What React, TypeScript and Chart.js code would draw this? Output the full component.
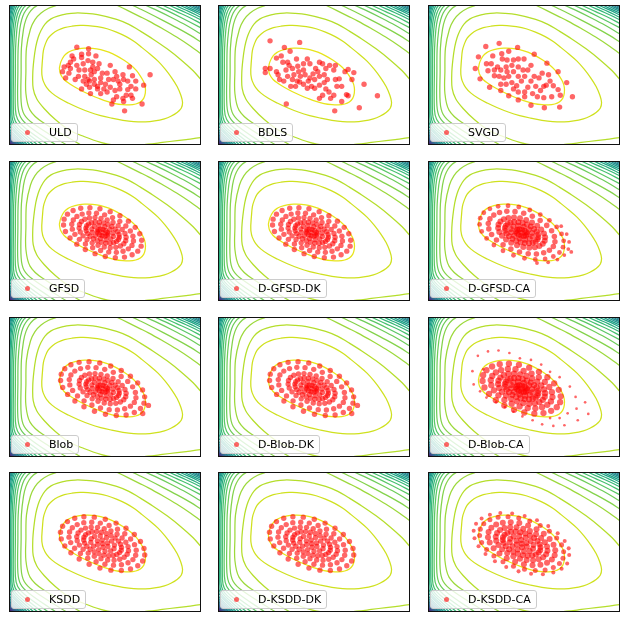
import React, { useEffect, useRef } from "react";
import { Chart, registerables } from "chart.js";

Chart.register(...registerables);

type Pt = [number, number];

// ---------------- panel labels ----------------
const panelNames = [
  "ULD", "BDLS", "SVGD",
  "GFSD", "D-GFSD-DK", "D-GFSD-CA",
  "Blob", "D-Blob-DK", "D-Blob-CA",
  "KSDD", "D-KSDD-DK", "D-KSDD-CA",
];

// ---------------- particles (x, y in axis units, y grows downward) ----------------
const uldPoints: Pt[] = [
  [70.5,44.2],[82.8,45.8],[82.8,51.2],[75.5,55.2],[67.2,56.8],[63.8,60.2],[61.5,63.5],[57.2,65.2],[55.5,70.2],[58.8,76.8],
  [63.8,66.8],[70.5,63.5],[77.2,61.8],[72.8,68.5],[78.8,68.5],[84.8,68.5],[88.8,70.2],[85.5,73.5],[82.2,78.5],[77.2,80.2],
  [75.5,88.5],[83.8,80.2],[88.8,83.5],[92.2,85.8],[95.5,81.8],[95.5,76.8],[97.2,71.8],[90.5,53.5],[93.8,61.8],[87.2,60.2],
  [82.2,58.5],[105.5,63.5],[110.5,70.2],[112.2,75.2],[102.2,71.8],[103.8,78.5],[100.5,83.5],[105.5,86.8],[102.2,91.8],[110.5,90.2],
  [115.5,88.5],[119.5,78.5],[118.8,73.5],[125.5,65.2],[128.8,74.5],[132.2,80.2],[127.2,85.8],[132.2,88.5],[123.8,89.2],[122.2,95.2],
  [127.2,95.2],[128.8,98.5],[118.8,98.5],[112.2,96.8],[108.8,100.2],[107.2,104.5],[119.5,101.8],[138.8,104.5],[120.5,111.8],[147.2,73.5],
  [140.5,84.5],[84.8,93.5],[92.2,88.5],[98.8,88.5],[95.5,93.5],[113.8,80.2],[123.8,80.2],[65.5,53.5],[72.2,75.2],[78.8,75.2],
  [68.8,78.5],[87.2,65.2],[92.2,66.8],[108.8,78.5],[115.5,83.5],[75.5,51.8],[80.5,83.5],[88.8,78.5],[83.8,86.8],[62.2,71.8],
];

const bdlsPoints: Pt[] = [
  [54,37.5],[85,39.2],[69,44.5],[75,48.5],[65.7,53.5],[60.7,55.8],[67.4,60.2],[72.4,60.2],[74,63.5],[70.7,68.5],
  [77.4,66.8],[81.7,56.8],[83,64.5],[89,61.8],[93,56.8],[95.7,61.8],[101.7,66.8],[105.7,60.2],[109,61.8],[104,70.2],
  [112.4,66.8],[116.4,63.5],[120.7,68.5],[122.4,63.5],[110.7,73.5],[105.7,75.2],[100.7,78.5],[95.7,76.8],[90.7,73.5],[85.7,75.2],
  [82.4,80.2],[77.4,78.5],[75.7,85.8],[80.7,85.8],[85,81.2],[89,83.5],[93,87.8],[97.4,85.8],[100.7,87.8],[105.7,84.5],
  [110.7,81.8],[112.4,88.5],[109,95.2],[115.7,91.8],[120.7,95.2],[122.4,78.5],[126.4,77.8],[129,85.8],[132.4,70.2],[135.7,67.8],
  [141.7,71.2],[139.7,78.5],[152.4,83.5],[134,94.5],[135.7,95.8],[129,101.8],[147.4,108.5],[121.7,111.8],[166.4,95.8],[71,104.5],
  [49,66.8],[54,66.8],[49,71.2],[60.7,70.2],[64,78.5],[68.4,80.2],[62.4,73.5],[72.4,75.2],[79,73.5],[84,70.2],
  [89,68.5],[94,80.2],[99,72.5],[114,78.5],[124,85.8],[117.4,98.5],[105.7,98.5],
];

const svgdPoints: Pt[] = [
  [60,43.5],[74,40.2],[93.3,44.5],[84,48.5],[67.3,53.5],[76.7,51.2],[52.3,54.5],[49,66.8],[54,77.8],[60.7,61.8],
  [65.7,61.8],[69,68.5],[72.3,65.2],[77.3,56.8],[82.3,57.8],[89,57.8],[94,56.8],[100,56.8],[110.7,51.8],[107.3,63.5],
  [104,68.5],[99,68.5],[94,65.2],[87.3,63.5],[81.3,65.2],[75.7,68.5],[74,75.2],[79,76.8],[84,75.2],[89,70.2],
  [94,75.2],[97.3,80.2],[92.3,85.2],[87.3,81.8],[81.3,83.5],[75.7,83.5],[64,86.8],[75.7,90.2],[84,95.8],[94,100.2],
  [107.3,105.8],[121.3,108.5],[137.3,107.8],[150.7,96.8],[144.7,81.8],[135.7,70.2],[124,61.2],[119,71.8],[125.7,73.5],[127.3,80.2],
  [123.3,84.5],[130.7,85.2],[135.7,89.2],[138,95.2],[129,96.8],[120.7,97.8],[117.3,90.2],[112.3,85.8],[107.3,80.2],[110.7,75.2],
  [115.7,76.8],[104,86.8],[100.7,91.8],[109,93.5],[94,91.8],[89,88.5],[114,96.8],[100.7,96.8],[69,74.5],[62.3,69.2],
  [82.3,70.2],[100.7,75.2],[120.7,85.8],
];

const gfsdRing1: Pt[] = [
  [137.8,89.8],[134.3,95.1],[128.4,99],[120.4,101.4],[110.8,102],[100.3,100.8],[89.6,97.8],[79.4,93.4],[70.5,87.7],[63.4,81.1],
  [58.6,74.3],[56.6,67.4],[57.2,61.2],[60.7,55.9],[66.6,52],[74.6,49.6],[84.2,49],[94.7,50.2],[105.4,53.2],[115.6,57.6],
  [124.5,63.3],[131.6,69.9],[136.4,76.7],[138.4,83.6],
];
const gfsdRing2: Pt[] = [
  [128.2,89],[124.4,92.7],[118.9,95.2],[111.9,96.4],[103.9,96.1],[95.4,94.4],[87.1,91.5],[79.5,87.5],[73.2,82.6],[68.5,77.3],
  [65.8,71.8],[65.2,66.6],[66.8,62],[70.6,58.3],[76.1,55.8],[83.1,54.6],[91.1,54.9],[99.6,56.6],[107.9,59.5],[115.5,63.5],
  [121.8,68.4],[126.5,73.7],[129.2,79.2],[129.8,84.4],
];
const coreRings: Pt[] = [
  [121.7,84.1],[119.7,87.3],[116.1,89.7],[111.3,91.1],[105.5,91.5],[99.2,90.7],[92.7,88.9],[86.6,86.3],[81.2,82.8],[77,78.9],
  [74.1,74.8],[72.9,70.7],[73.3,66.9],[75.3,63.7],[78.9,61.3],[83.7,59.9],[89.5,59.5],[95.8,60.3],[102.3,62.1],[108.4,64.7],
  [113.8,68.2],[118,72.1],[120.9,76.3],[122.1,80.4],
  [114.1,82.8],[112.1,84.8],[109.1,86.1],[105.3,86.8],[100.9,86.6],[96.4,85.7],[91.9,84.1],[87.8,82],[84.4,79.3],[81.8,76.5],
  [80.3,73.5],[80,70.7],[80.9,68.2],[82.9,66.2],[85.9,64.9],[89.7,64.2],[94.1,64.4],[98.6,65.3],[103.1,66.9],[107.2,69],
  [110.6,71.7],[113.2,74.5],[114.7,77.5],[115,80.3],
  [108.8,79.5],[106.1,82.1],[101.2,82.9],[95.3,81.7],[89.9,78.9],[86.6,75.2],[86.2,71.5],[88.9,68.9],[93.8,68.1],[99.7,69.3],
  [105.1,72.1],[108.4,75.9],
  [102.2,78.5],[100,79.2],[97.1,78.8],[94.3,77.6],[92.4,75.8],[91.8,73.9],[92.8,72.5],[95,71.8],[97.9,72.2],[100.7,73.4],
  [102.6,75.2],[103.2,77.1],
  [97.5,75.5],
];

const blobRing1: Pt[] = [
  [140.8,90.9],[137.1,96.6],[130.7,100.8],[122.1,103.4],[111.8,104],[100.5,102.7],[89,99.5],[78,94.7],[68.5,88.6],[60.9,81.6],
  [55.7,74.2],[53.5,66.8],[54.2,60.1],[57.9,54.4],[64.3,50.2],[72.9,47.6],[83.3,47],[94.5,48.3],[106,51.5],[117,56.3],
  [126.6,62.4],[134.2,69.4],[139.3,76.8],[141.5,84.2],
];
const blobRing2: Pt[] = [
  [130.7,90.1],[126.6,94.1],[120.6,96.8],[113,98.1],[104.4,97.8],[95.3,96],[86.3,92.8],[78.1,88.4],[71.2,83.2],[66.1,77.4],
  [63.2,71.5],[62.6,65.9],[64.3,60.9],[68.4,56.9],[74.4,54.2],[82,52.9],[90.6,53.2],[99.7,55],[108.7,58.2],[116.9,62.6],
  [123.8,67.8],[128.9,73.6],[131.8,79.5],[132.4,85.1],
];
const blobExtra: Pt[] = [[145.5,93.3],[139.5,101.8]];

const ksddRing1: Pt[] = [
  [139.4,93.9],[134.3,98.9],[126.7,102.4],[117.1,104],[106.2,103.6],[94.7,101.4],[83.4,97.3],[73,91.8],[64.3,85.2],[57.9,77.9],
  [54.2,70.5],[53.4,63.4],[55.6,57.1],[60.7,52.1],[68.3,48.6],[77.9,47],[88.8,47.4],[100.3,49.6],[111.6,53.7],[122,59.2],
  [130.7,65.8],[137.1,73.1],[140.8,80.6],[141.6,87.6],
];
const ksddInner: Pt[] = [
  [132.1,87.8],[129.2,92.4],[124.1,95.7],[117.2,97.8],[108.9,98.3],[99.9,97.3],[90.7,94.7],[81.9,90.9],[74.3,86],[68.2,80.4],
  [64.1,74.4],[62.3,68.6],[62.9,63.2],[65.8,58.6],[70.9,55.3],[77.8,53.2],[86.1,52.7],[95.1,53.7],[104.3,56.3],[113.1,60.1],
  [120.7,65],[126.8,70.6],[130.9,76.6],[132.7,82.4],
  [123.2,86.8],[120.1,89.9],[115.4,92],[109.5,93],[102.8,92.8],[95.8,91.4],[88.8,88.9],[82.4,85.5],[77.1,81.5],[73.2,77],
  [70.9,72.4],[70.4,68.1],[71.8,64.2],[74.9,61.1],[79.6,59],[85.5,58],[92.2,58.2],[99.2,59.6],[106.2,62.1],[112.6,65.5],
  [117.9,69.5],[121.8,74],[124.1,78.6],[124.6,82.9],
  [117,82.4],[115.3,85],[112.4,86.9],[108.6,88.1],[103.9,88.3],[98.8,87.7],[93.7,86.3],[88.7,84.1],[84.4,81.4],[81,78.2],
  [78.7,74.9],[77.7,71.6],[78,68.6],[79.7,66],[82.6,64.1],[86.4,62.9],[91.1,62.7],[96.2,63.3],[101.3,64.7],[106.3,66.9],
  [110.6,69.6],[114,72.8],[116.3,76.1],[117.3,79.4],
  [109.5,80.8],[105.9,83.2],[100,83.6],[93.4,81.8],[88,78.3],[85.1,74.1],[85.5,70.2],[89.1,67.8],[95,67.4],[101.6,69.2],
  [107,72.7],[109.9,77],
  [103,78.5],[97.9,79.3],[92.4,76.4],[92,72.5],[97.1,71.7],[102.6,74.7],
  [97.5,75.5],
];

const dGfsdCaOuter: Pt[] = [
  [138.9,68.6],[144.7,77],[147.2,85.3],[146.4,92.9],[149.5,96],[142.2,99.3],[135,104.1],[125.3,107],[113.6,107.7],
];
const dBlobCaOuter: Pt[] = [
  [51.7,40.7],[62.3,36],[73.3,35],[84.7,37.7],[95.7,43.3],[107.3,45],[118,50],[127.3,57.7],[137.3,63.3],[148,73.3],
  [154,84.3],[164,90],[155,96.7],[167.3,102.3],[156.3,109],[145.7,101.7],[142.3,114.3],[137.3,106.7],[130.7,115],[127.3,106.7],
  [119,113.3],[109,109],[98.3,105],[89,100],[80,95],[70.7,90],[60.7,85],[54,78.3],[47.3,71],[57.3,55],[46,57],
];
const dKsddCaOuter: Pt[] = [
  [145.2,96.5],[139.4,102.2],[130.7,106.1],[119.8,107.9],[107.4,107.5],[94.3,104.9],[81.4,100.3],[69.6,94.1],[59.7,86.5],[52.4,78.3],
  [48.2,69.8],[47.3,61.7],[49.8,54.5],[55.6,48.8],[64.3,44.9],[75.2,43.1],[87.6,43.5],[100.7,46.1],[113.6,50.7],[125.4,56.9],
  [135.3,64.5],[142.6,72.7],[146.8,80.5],[147.3,87.6],
];

// particle groups per panel: [points, particle weight]
const panelGroups: Array<Array<[Pt[], number]>> = [
  [[uldPoints, 0.8]],
  [[bdlsPoints, 0.8]],
  [[svgdPoints, 0.8]],
  [[gfsdRing1, 0.8], [gfsdRing2, 0.8], [coreRings, 0.8]],
  [[gfsdRing1, 0.8], [gfsdRing2, 0.8], [coreRings, 0.8]],
  [[dGfsdCaOuter, 0.4], [blobRing1, 0.65], [blobRing2, 0.85], [coreRings, 1.0]],
  [[blobRing1, 0.8], [blobRing2, 0.8], [coreRings, 0.8], [blobExtra, 0.8]],
  [[blobRing1, 0.8], [blobRing2, 0.8], [coreRings, 0.8], [blobExtra, 0.8]],
  [[dBlobCaOuter, 0.2], [gfsdRing1, 1.1], [gfsdRing2, 1.1], [coreRings, 1.1]],
  [[ksddRing1, 0.8], [ksddInner, 0.8]],
  [[ksddRing1, 0.8], [ksddInner, 0.8]],
  [[dKsddCaOuter, 0.45], [blobRing1, 0.7], [ksddInner, 1.0]],
];

// ---------------- target density contours (same in every panel) ----------------
const contour1: Pt[] = [
  [52.2,66.8],[53.8,59.8],[57.2,53.5],[61,50],[65.5,47.8],[72,46],[78.8,45.2],[87,45.4],[95.5,46.8],[104,49.5],
  [112.2,53.5],[120,58.2],[127.2,63.5],[133,69.2],[137.2,75.2],[140.5,81],[142.2,86.8],[142.2,93],[140.5,98.5],[137,102.3],
  [132.2,104.5],[125.5,105.5],[118.8,105.2],[110.5,104],[102.2,101.8],[93.8,98.7],[85.5,95.2],[77,91.2],[68.8,86.8],[62.5,82.8],
  [57.2,78.5],[53.5,73],[52.2,66.8],
];
const contour2: Pt[] = [
  [33.8,68],[34.5,58],[35.5,48],[37.5,41],[40.5,34.7],[45,30],[50.5,26.3],[57.5,23.5],[65.5,22],[74,21.2],
  [82.2,21.3],[92,22.5],[102.2,24.7],[112,28.2],[122.2,33],[131,38.5],[138.8,44.7],[147,51.5],[155.5,59],[163,67.5],
  [170,77],[175.5,86],[179.5,95.5],[181.2,103],[179.8,109],[175.5,113.5],[169,117.5],[162.2,120.2],[152,122.5],[142.2,123.5],
  [130,123.2],[118.8,121.8],[107,119.5],[95.5,116.8],[83.5,113],[72.2,108.5],[61.5,103.5],[52.2,98.5],[44.5,93],[38.8,86.8],
  [35.3,80],[34,74],[33.8,68],
];
const contour3: Pt[] = [
  [206,139],[200,140.3],[185,142.2],[175.5,143.3],[160,145.3],[145,147.2],[128,149],[110,148.2],[95.5,145.2],[78,139],
  [62,131.8],[48,121],[36,109],[28.5,99],[24.8,88],[24.4,72],[25.5,58],[27.5,44],[30,34],[33,26.5],
  [37.2,19.7],[43.5,14.2],[50.5,11.3],[60,9],[68.8,8],[80,8.3],[92.2,9.7],[112.2,14.7],[125,20],[135.5,26.3],
  [150,35.5],[165,46],[180,58],[192,69],[200,78],[206,85],
];

const leftBranchLevels = [4,5,6,7,8,9,10,11,12,13,14,15,16,17,18,19,20,21,22,23,24,25,26];
const leftBranches: Pt[][] = [
  [[56.9,-3],[49,0],[41,3],[33.1,8],[26.7,15],[22,25],[17.8,45],[17.2,70],[17.2,93.4],[21.5,111],[34.4,123.7],[74,147.5],[78,149.9]],
  [[33.2,-3],[29,0],[24.8,3],[20.6,8],[17.2,15],[14.7,25],[12.5,45],[12.2,70],[12.2,102.1],[15.3,115.4],[24.8,125.3],[59,147.5],[63,150.1]],
  [[25.3,-3],[22,0],[18.7,3],[15.4,8],[12.8,15],[10.8,25],[9.1,45],[8.8,70],[8.8,106.1],[11.7,118.6],[20.3,128.1],[48,147.5],[52,150.3]],
  [[19.7,-3],[17,0],[14.3,3],[11.6,8],[9.4,15],[7.8,25],[6.4,45],[6.2,70],[6.2,110.2],[8.6,121],[15.8,129.4],[40,147.5],[44,150.5]],
  [[15.8,-3],[13.5,0],[11.2,3],[8.85,8],[7,15],[5.6,25],[4.4,45],[4.2,70],[4.2,113.7],[6.15,122.8],[12,129.95],[34,147.5],[38,150.7]],
  [[12.5,-3],[10.5,0],[8.5,3],[6.55,8],[4.97,15],[3.8,25],[2.76,45],[2.6,70],[2.6,116.1],[4.31,124.3],[9.46,130.9],[29,147.5],[33,150.9]],
  [[9.7,-3],[8,0],[6.3,3],[4.65,8],[3.3,15],[2.3,25],[1.4,45],[1.3,70],[1.3,118.2],[2.79,125.5],[7.25,131.55],[25,147.5],[29,151.1]],
  [[7.45,-3],[6,0],[4.55,3],[3.1,8],[1.94,15],[1.07,25],[0.32,45],[0.2,70],[0.2,120.3],[1.47,126.75],[5.28,132.1],[21.5,147.5],[25.5,151.3]],
  [[5.8,-3],[4.5,0],[3.18,3],[1.85,8],[0.8,15],[0,25],[-0.7,45],[-0.8,70],[-0.8,122.2],[0.26,127.8],[3.44,132.4],[18.5,147.5],[22,151]],
  [[4.6,-3],[3.3,0],[2.03,3],[0.75,8],[-0.27,15],[-1,25],[-1.7,45],[-1.8,70],[-1.8,123.7],[-0.74,129.3],[2.44,133.9],[16,147.5],[19.5,151]],
  [[3.6,-3],[2.3,0],[1.03,3],[-0.25,8],[-1.27,15],[-2,25],[-2.8,70],[-2.8,124.7],[-1.74,130.3],[1.44,134.9],[14,147.5],[17.5,151]],
  [[2.8,-3],[1.5,0],[0.18,3],[-1.15,8],[-2.2,15],[-3.8,45],[-3.8,125.5],[-2.74,131.1],[0.44,135.7],[12.2,147.5],[15.7,151]],
  [[2.2,-3],[0.8,0],[-0.6,3],[-2,8],[-4.8,45],[-4.8,126.1],[-3.74,131.7],[-0.56,136.3],[10.6,147.5],[14,151]],
  [[1.6,-3],[0.2,0],[-1.2,3],[-5.8,45],[-5.8,126.5],[-4.74,132.1],[-1.56,136.7],[9.2,147.5],[12.6,151]],
  [[-3,136.5],[11,150.5]],
  [[-3,137.6],[9.9,150.5]],
  [[-3,138.6],[8.9,150.5]],
  [[-3,139.5],[8,150.5]],
  [[-3,140.3],[7.2,150.5]],
  [[-3,141],[6.5,150.5]],
  [[-3,141.7],[5.8,150.5]],
  [[-3,142.3],[5.2,150.5]],
  [[-3,142.9],[4.6,150.5]],
];

const rightBranchLevels = [4,5,6,7,8,9,10,11,12,13,14,15,16];
const rightBranches: Pt[][] = [
  [[107,-3],[113,0],[124,5.5],[135.5,11.3],[145.5,16.3],[160,24.5],[175,33.5],[190,43.5],[200,51],[206,55.5]],
  [[122,-3],[129,0],[137,3.8],[145.5,8],[160,15.5],[175,23.5],[190,32],[200,38.5],[206,42.5]],
  [[137,-3],[143,0],[155,5.5],[170,13],[185,21],[200,30],[206,33.5]],
  [[148,-3],[153,0],[165,5.5],[180,13],[200,23.5],[206,27]],
  [[157,-3],[161,0],[175,6.5],[190,13.5],[200,19],[206,22]],
  [[164,-3],[168,0],[180,5.5],[195,12.5],[200,15.3],[206,18.5]],
  [[170.5,-3],[174,0],[188,6.5],[200,12.5],[206,15.5]],
  [[176,-3],[179,0],[190,5],[200,10],[206,13]],
  [[181,-3],[183.5,0],[200,8],[206,11]],
  [[185,-3],[187.5,0],[200,6.2],[206,9.2]],
  [[189,-3],[191,0],[200,4.6],[206,7.6]],
  [[192,-3],[194,0],[200,3.2],[206,6.2]],
  [[195.5,-3],[197,0],[200,1.8],[206,5]],
];

// ---------------- styling ----------------
const N_LEVELS = 27;
const VIRIDIS = [
  "#440154","#471365","#482475","#463480","#414487","#3b528b","#355f8d","#2f6c8e","#2a788e","#25848e",
  "#21918c","#1e9c89","#22a884","#2fb47c","#44bf70","#5ec962","#7ad151","#9bd93c","#bddf26","#dfe318","#fde725",
];
function hexToRgb(h: string) {
  return [parseInt(h.slice(1, 3), 16), parseInt(h.slice(3, 5), 16), parseInt(h.slice(5, 7), 16)];
}
function viridis(t: number) {
  const tt = Math.max(0, Math.min(1, t)) * (VIRIDIS.length - 1);
  const i = Math.min(Math.floor(tt), VIRIDIS.length - 2);
  const f = tt - i;
  const a = hexToRgb(VIRIDIS[i]);
  const b = hexToRgb(VIRIDIS[i + 1]);
  const c = a.map((v, k) => Math.round(v + (b[k] - v) * f));
  return `rgb(${c[0]},${c[1]},${c[2]})`;
}
const levelColor = (k: number) => viridis(1 - k / N_LEVELS);

const DOT_COLOR = "rgba(255,0,0,0.6)";
const PANEL_W = 200;
const PANEL_H = 148;
const COL_LEFT = [5, 214, 424];
const ROW_TOP = [1, 157, 313, 468];

const framePlugin = {
  id: "frame",
  afterDatasetsDraw(chart: any) {
    const { ctx, chartArea } = chart;
    ctx.save();
    ctx.strokeStyle = "#111";
    ctx.lineWidth = 1;
    ctx.strokeRect(chartArea.left + 0.5, chartArea.top + 0.5, chartArea.right - chartArea.left - 1, chartArea.bottom - chartArea.top - 1);
    ctx.restore();
  },
};

function Panel({ index }: { index: number }) {
  const ref = useRef<HTMLCanvasElement>(null);
  useEffect(() => {
    const canvas = ref.current;
    if (!canvas) return;
    const datasets: any[] = [];
    panelGroups[index].forEach(([pts, w]) => {
      datasets.push({
        data: pts.map(([x, y]) => ({ x, y })),
        showLine: false,
        pointRadius: 3 * Math.sqrt(w),
        pointBackgroundColor: DOT_COLOR,
        pointBorderColor: "rgba(0,0,0,0)",
        pointBorderWidth: 0,
        order: 0,
      });
    });
    const addLine = (pts: Pt[], level: number) => {
      datasets.push({
        data: pts.map(([x, y]) => ({ x, y })),
        showLine: true,
        borderColor: levelColor(level),
        borderWidth: 1.25,
        pointRadius: 0,
        tension: 0.35,
        capBezierPoints: false,
        fill: false,
        order: 1,
      });
    };
    addLine(contour1, 1);
    addLine(contour2, 2);
    addLine(contour3, 3);
    leftBranches.forEach((b, i) => addLine(b, leftBranchLevels[i]));
    rightBranches.forEach((b, i) => addLine(b, rightBranchLevels[i]));

    const chart = new Chart(canvas, {
      type: "scatter",
      data: { datasets },
      options: {
        animation: false,
        responsive: false,
        devicePixelRatio: 1,
        events: [],
        layout: { padding: 0 },
        plugins: { legend: { display: false }, tooltip: { enabled: false } },
        scales: {
          x: { type: "linear", min: -0.5, max: 200.5, display: false },
          y: { type: "linear", min: -0.5, max: 148, reverse: true, display: false },
        },
      } as any,
      plugins: [framePlugin],
    });
    return () => chart.destroy();
  }, [index]);

  const col = index % 3;
  const row = Math.floor(index / 3);
  return (
    <div style={{ position: "absolute", left: COL_LEFT[col], top: ROW_TOP[row], width: PANEL_W, height: PANEL_H }}>
      <canvas ref={ref} width={PANEL_W} height={PANEL_H} style={{ width: PANEL_W, height: PANEL_H, display: "block" }} />
      <div
        style={{
          position: "absolute",
          left: 6,
          top: 122,
          height: 19,
          boxSizing: "border-box",
          border: "1px solid #cccccc",
          borderRadius: 3,
          background: "rgba(255,255,255,0.8)",
          display: "flex",
          alignItems: "center",
          paddingRight: 5,
          fontFamily: '"DejaVu Sans", sans-serif',
          fontSize: 11,
          lineHeight: "13px",
          color: "#000",
          whiteSpace: "nowrap",
        }}
      >
        <span style={{ width: 5, height: 5, borderRadius: "50%", background: DOT_COLOR, marginLeft: 12.5, marginRight: 19.5, flex: "none" }} />
        <span>{panelNames[index]}</span>
      </div>
    </div>
  );
}

export default function App() {
  return (
    <div style={{ position: "fixed", left: 0, top: 0, width: 624, height: 618, overflow: "hidden", background: "#fff" }}>
      {panelNames.map((_, i) => (
        <Panel key={i} index={i} />
      ))}
    </div>
  );
}
